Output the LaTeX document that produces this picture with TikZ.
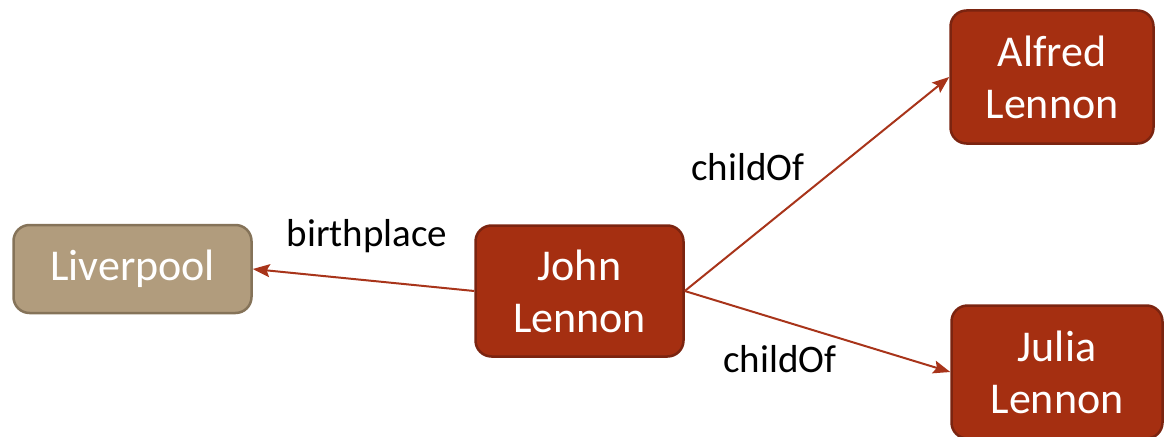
\documentclass[tikz,border=0pt]{standalone}
\usepackage{fontspec}
\setmainfont{Carlito}
\usetikzlibrary{arrows.meta}
\definecolor{redfill}{HTML}{A52F11}
\definecolor{redline}{HTML}{7B2410}
\definecolor{tanfill}{HTML}{B19C7D}
\definecolor{tanline}{HTML}{857359}
\definecolor{arrowcol}{HTML}{A8341A}
\begin{document}
\begin{tikzpicture}[x=1pt,y=-1pt,
  entity/.style={draw=redline, fill=redfill, line width=2.5pt, rounded corners=16pt,
    text=white, align=center, inner sep=0pt, font=\fontsize{44}{52}\selectfont},
  place/.style={entity, draw=tanline, fill=tanfill},
  rel/.style={draw=arrowcol, line width=2pt, -{Stealth[length=17pt,width=13pt,inset=3pt]}},
  lbl/.style={font=\fontsize{39}{46}\selectfont, text=black, inner sep=0pt}]
\useasboundingbox (0,0) rectangle (1166,436);
\clip (0,0) rectangle (1166,436);
\node[place, minimum width=238pt, minimum height=88pt] (liv) at (132.5,269) {Liverpool};
\node[entity, minimum width=208pt, minimum height=131pt] (john) at (579.5,291) {John\\Lennon};
\node[entity, minimum width=203pt, minimum height=133pt] (alfred) at (1052,77) {Alfred\\Lennon};
\node[entity, minimum width=211pt, minimum height=133pt] (julia) at (1057,372) {Julia\\Lennon};
\draw[rel] (john.west) -- (liv.east);
\draw[rel] (john.east) -- (alfred.west);
\draw[rel] (john.east) -- (julia.west);
\node[lbl] (l1) at (367,236) {birthplace};
\node[lbl] (l2) at (748,167) {childOf};
\node[lbl] (l3) at (780,359) {childOf};
\end{tikzpicture}
\end{document}
